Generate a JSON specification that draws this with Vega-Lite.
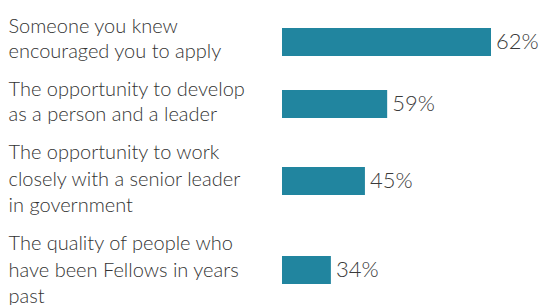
{
  "$schema": "https://vega.github.io/schema/vega-lite/v6.json",
  "padding": {"left": 8, "top": 11, "right": 5, "bottom": 0},
  "spacing": 0,
  "bounds": "flush",
  "config": {
    "view": {"stroke": null},
    "font": "Lato",
    "axisY": {
      "title": null, "domain": false, "ticks": false, "tickSize": 0, "grid": false,
      "labelAlign": "left", "labelBaseline": "middle", "labelPadding": 274,
      "labelFont": "Lato", "labelFontWeight": 300, "labelFontSize": 20, "labelColor": "#333333",
      "labelLineHeight": 26, "labelLimit": 400,
      "labelExpr": "split(datum.label, '|')"
    }
  },
  "data": {"values": [
    {"rank": 1, "label": "Someone you knew|encouraged you to apply", "share": 0.62, "bar_length": 62},
    {"rank": 2, "label": "The opportunity to develop|as a person and a leader", "share": 0.59, "bar_length": 31.2},
    {"rank": 3, "label": "The opportunity to work|closely with a senior leader|in government", "share": 0.45, "bar_length": 24.6},
    {"rank": 4, "label": "The quality of people who|have been Fellows in years|past", "share": 0.34, "bar_length": 14.5}
  ]},
  "vconcat": [
    {
      "width": 209, "height": 62,
      "transform": [{"filter": "datum.rank == 1"}],
      "encoding": {
        "y": {"field": "label", "type": "nominal", "axis": {"labelOffset": -15, "labelLineHeight": 25}},
        "x": {"field": "bar_length", "type": "quantitative", "scale": {"domain": [0, 62], "nice": false}, "axis": null}
      },
      "layer": [
        {"mark": {"type": "bar", "color": "#21859f", "height": 28}},
        {"mark": {"type": "text", "align": "left", "baseline": "middle", "dx": 5, "fontSize": 22, "fontWeight": 300, "font": "Lato", "color": "#3a3a3a"},
         "encoding": {"text": {"field": "share", "type": "quantitative", "format": ".0%"}}}
      ]
    },
    {
      "width": 209, "height": 62,
      "transform": [{"filter": "datum.rank == 2"}],
      "encoding": {
        "y": {"field": "label", "type": "nominal", "axis": {"labelOffset": -14.5, "labelLineHeight": 25.5}},
        "x": {"field": "bar_length", "type": "quantitative", "scale": {"domain": [0, 62], "nice": false}, "axis": null}
      },
      "layer": [
        {"mark": {"type": "bar", "color": "#21859f", "height": 28}},
        {"mark": {"type": "text", "align": "left", "baseline": "middle", "dx": 5, "fontSize": 22, "fontWeight": 300, "font": "Lato", "color": "#3a3a3a"},
         "encoding": {"text": {"field": "share", "type": "quantitative", "format": ".0%"}}}
      ]
    },
    {
      "width": 209, "height": 92,
      "transform": [{"filter": "datum.rank == 3"}],
      "encoding": {
        "y": {"field": "label", "type": "nominal", "axis": {"labelOffset": -28, "labelLineHeight": 26.5}},
        "x": {"field": "bar_length", "type": "quantitative", "scale": {"domain": [0, 62], "nice": false}, "axis": null}
      },
      "layer": [
        {"mark": {"type": "bar", "color": "#21859f", "height": 28}},
        {"mark": {"type": "text", "align": "left", "baseline": "middle", "dx": 5, "fontSize": 22, "fontWeight": 300, "font": "Lato", "color": "#3a3a3a"},
         "encoding": {"text": {"field": "share", "type": "quantitative", "format": ".0%"}}}
      ]
    },
    {
      "width": 209, "height": 86,
      "transform": [{"filter": "datum.rank == 4"}],
      "encoding": {
        "y": {"field": "label", "type": "nominal", "axis": {"labelOffset": -26, "labelLineHeight": 26.5}},
        "x": {"field": "bar_length", "type": "quantitative", "scale": {"domain": [0, 62], "nice": false}, "axis": null}
      },
      "layer": [
        {"mark": {"type": "bar", "color": "#21859f", "height": 28}},
        {"mark": {"type": "text", "align": "left", "baseline": "middle", "dx": 5, "fontSize": 22, "fontWeight": 300, "font": "Lato", "color": "#3a3a3a"},
         "encoding": {"text": {"field": "share", "type": "quantitative", "format": ".0%"}}}
      ]
    }
  ]
}
